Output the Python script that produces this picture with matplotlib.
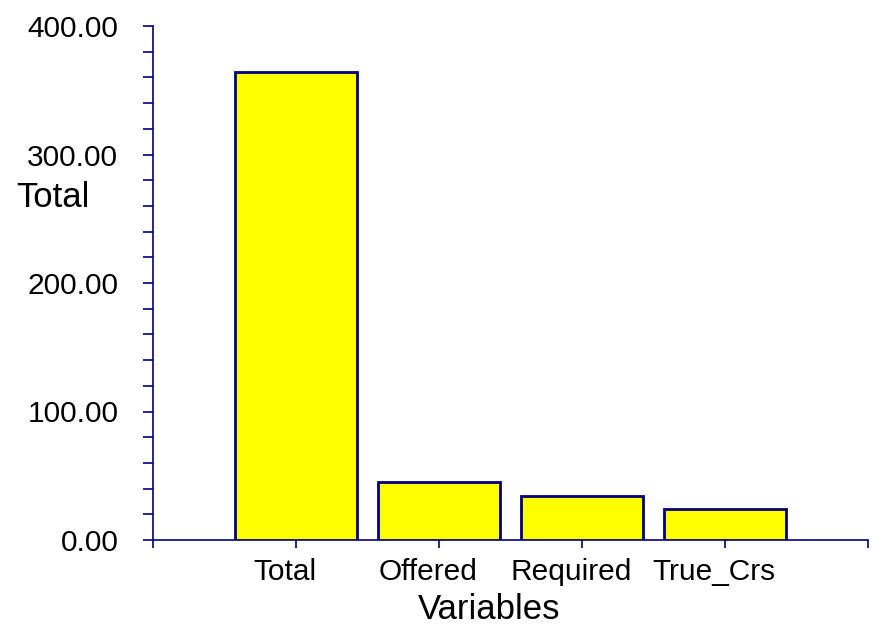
import matplotlib.pyplot as plt
from matplotlib.ticker import MultipleLocator, FormatStrFormatter, FixedLocator
from matplotlib.transforms import ScaledTranslation

# data
categories = ['Total', 'Offered', 'Required', 'True_Crs']
totals = [364, 45, 34, 24]

navy = '#000080'

plt.rcParams['font.family'] = ['Liberation Sans', 'DejaVu Sans']

fig = plt.figure(figsize=(8.73, 6.35), dpi=100)
ax = fig.add_axes([153 / 873, 1 - 540 / 635, 715 / 873, 514 / 635])

x = list(range(1, len(categories) + 1))
ax.bar(x, totals, width=0.85, color='#FFFF00', edgecolor=navy, linewidth=2, zorder=3)

ax.set_xlim(0, len(categories) + 1)
ax.set_ylim(0, 400)

# axes style
for side in ['top', 'right']:
    ax.spines[side].set_visible(False)
for side in ['left', 'bottom']:
    ax.spines[side].set_color(navy)
    ax.spines[side].set_linewidth(1.2)

ax.set_xticks(x)
ax.set_xticklabels(categories)
ax.xaxis.set_minor_locator(FixedLocator([0, len(categories) + 1]))
ax.yaxis.set_major_locator(MultipleLocator(100))
ax.yaxis.set_minor_locator(MultipleLocator(20))
ax.yaxis.set_major_formatter(FormatStrFormatter('%.2f'))

ax.tick_params(axis='y', which='both', direction='out', length=7, width=1.2,
               color=navy, labelsize=21.5, pad=18)
ax.tick_params(axis='x', which='both', direction='out', length=6, width=1.2,
               color=navy, labelsize=21.5, pad=7)

# category labels sit a little left of their ticks in the original
shift = ScaledTranslation(-0.11, 0, fig.dpi_scale_trans)
for lab in ax.get_xticklabels():
    lab.set_transform(lab.get_transform() + shift)

ax.set_xlabel('Variables', fontsize=25)
ax.xaxis.set_label_coords(0.47, -0.103)
ax.set_ylabel('Total', fontsize=25, rotation=0, ha='center', va='center')
ax.yaxis.set_label_coords(-0.14, 0.667)

fig.savefig('out.png', dpi=100)
